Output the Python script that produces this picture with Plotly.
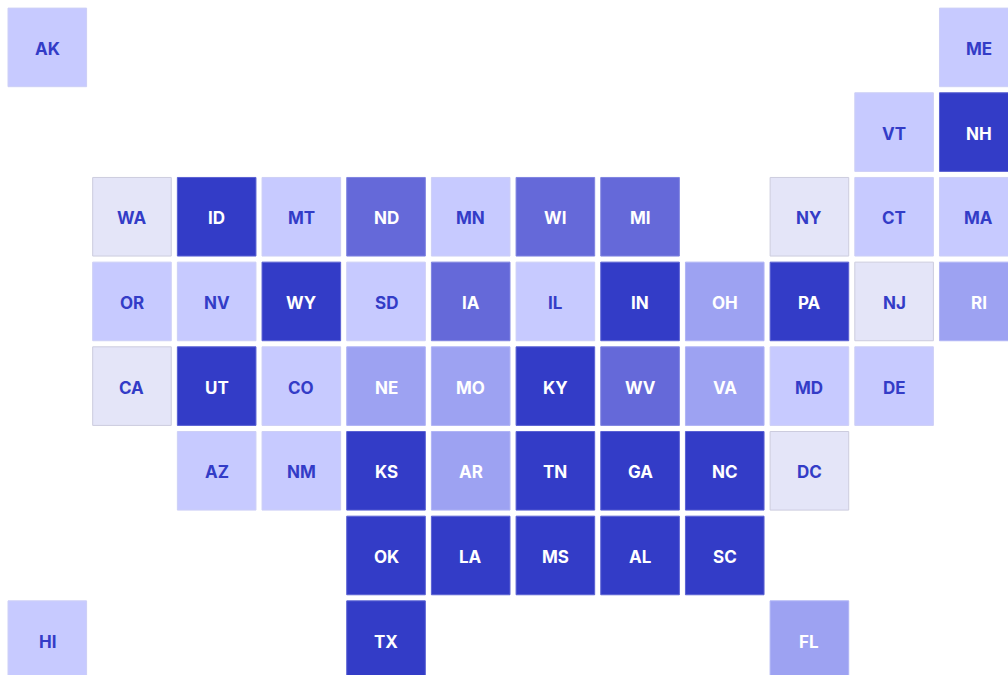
import plotly.graph_objects as go

states = ["AK","ME","VT","NH","WA","ID","MT","ND","MN","WI","MI","NY","CT","MA",
          "OR","NV","WY","SD","IA","IL","IN","OH","PA","NJ","RI",
          "CA","UT","CO","NE","MO","KY","WV","VA","MD","DE",
          "AZ","NM","KS","AR","TN","GA","NC","DC",
          "OK","LA","MS","AL","SC","HI","TX","FL"]
cols = [0,11,10,11,1,2,3,4,5,6,7,9,10,11,
        1,2,3,4,5,6,7,8,9,10,11,
        1,2,3,4,5,6,7,8,9,10,
        2,3,4,5,6,7,8,9,
        4,5,6,7,8,0,4,9]
rows = [0,0,1,1,2,2,2,2,2,2,2,2,2,2,
        3,3,3,3,3,3,3,3,3,3,3,
        4,4,4,4,4,4,4,4,4,4,
        5,5,5,5,5,5,5,5,
        6,6,6,6,6,7,7,7]
levels = [1,1,1,4,0,4,1,3,1,3,3,0,1,1,
          1,1,4,1,3,1,4,2,4,0,2,
          0,4,1,2,2,4,3,2,1,1,
          1,1,4,2,4,4,4,0,
          4,4,4,4,4,1,4,2]

FILL = ["#E4E5F8", "#C7CAFF", "#9DA2F2", "#6569D9", "#333CC7"]
EDGE = ["#CCCCDE", "#CDCFF6", "#B0B4F5", "#7F83E0", "#5A61D3"]
INK = ["#333CC7", "#333CC7", "#FFFFFF", "#FFFFFF", "#FFFFFF"]

W, H = 1008, 675
PITCH = 84.68
X0, Y0 = 47.3, 47.4

fig = go.Figure(go.Scatter(
    x=cols, y=rows, mode="markers",
    marker=dict(symbol="square", size=78.6,
                color=[FILL[v] for v in levels],
                line=dict(width=1, color=[EDGE[v] for v in levels])),
    cliponaxis=False, text=states, hoverinfo="text",
))
for s, c, r, v in zip(states, cols, rows, levels):
    fig.add_annotation(x=c, y=r, text=s, showarrow=False, yshift=-1.6,
                       xanchor="center", yanchor="middle",
                       font=dict(family="Inter", size=17, weight=700, color=INK[v]))
fig.update_layout(
    width=W, height=H, margin=dict(l=0, r=0, t=0, b=0),
    paper_bgcolor="white", plot_bgcolor="white", showlegend=False,
    xaxis=dict(visible=False, range=[-X0 / PITCH, (W - X0) / PITCH]),
    yaxis=dict(visible=False, range=[(H - Y0) / PITCH, -Y0 / PITCH]),
)
fig.write_html("out.html", config={"displayModeBar": False},
               post_script="document.body.style.margin='0';document.documentElement.style.overflow='hidden';")
